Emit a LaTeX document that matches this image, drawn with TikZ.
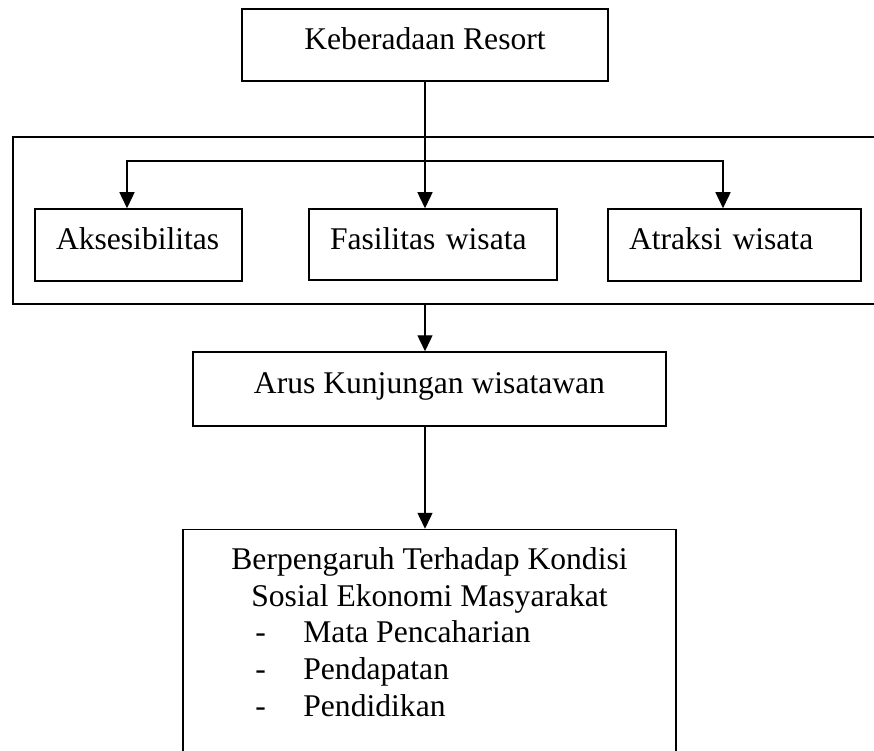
\documentclass[tikz,border=0pt]{standalone}
\usepackage{fontspec}
\setmainfont{Liberation Serif}
\usetikzlibrary{arrows.meta,positioning}

\begin{document}
\begin{tikzpicture}[
    x=1pt, y=1pt,
    font=\fontsize{31.6}{36.7}\selectfont,
    kotak/.style={draw, line width=1.5pt, inner sep=0pt, align=center,
                  minimum height=72pt, text height=22pt, text depth=13pt},
    pilar/.style={kotak, align=left, inner xsep=21pt},
    arr/.style={-{Triangle[width=15pt,length=16pt]}, line width=1.4pt}
  ]
  \clip (0,0) rectangle (874,-751);
  \node[kotak, minimum width=366pt] (res) at (425,-45) {Keberadaan Resort};
  \node[draw, line width=1.5pt, minimum width=871pt, minimum height=167pt] (grup) at (448.5,-220.5) {};
  \node[pilar, text width=165pt] (akses) at (138.5,-245) {Aksesibilitas};
  \node[pilar, text width=206pt, minimum height=71pt] (fasil) at (433,-244.5) {Fasilitas wisata};
  \node[pilar, text width=211pt] (atraksi) at (734.5,-245) {Atraksi wisata};
  \node[kotak, minimum width=473pt, minimum height=74pt] (arus) at (429.5,-389) {Arus Kunjungan wisatawan};
  \node[draw, line width=1.5pt, minimum width=493pt, inner sep=14.3pt, below=102pt of arus] (efek) {%
    \begin{tabular}{@{}l@{}}
      \multicolumn{1}{@{}c@{}}{Berpengaruh Terhadap Kondisi}\\
      \multicolumn{1}{@{}c@{}}{Sosial Ekonomi Masyarakat}\\
      \hspace*{24pt}\makebox[48pt][l]{-}Mata Pencaharian\\
      \hspace*{24pt}\makebox[48pt][l]{-}Pendapatan\\
      \hspace*{24pt}\makebox[48pt][l]{-}Pendidikan\\[24pt]
    \end{tabular}};
  \coordinate (cabang) at (res.south |- 0,-161);
  \draw[line width=1.4pt] (res.south) -- (cabang);
  \draw[arr] (cabang) -- (cabang |- fasil.north);
  \draw[arr] (cabang) -| ([xshift=-11.5pt]akses.north);
  \draw[arr] (cabang) -| ([xshift=-11.5pt]atraksi.north);
  \draw[arr] (cabang |- grup.south) -- (cabang |- arus.north);
  \draw[arr] (cabang |- arus.south) -- (cabang |- efek.north);
\end{tikzpicture}
\end{document}
